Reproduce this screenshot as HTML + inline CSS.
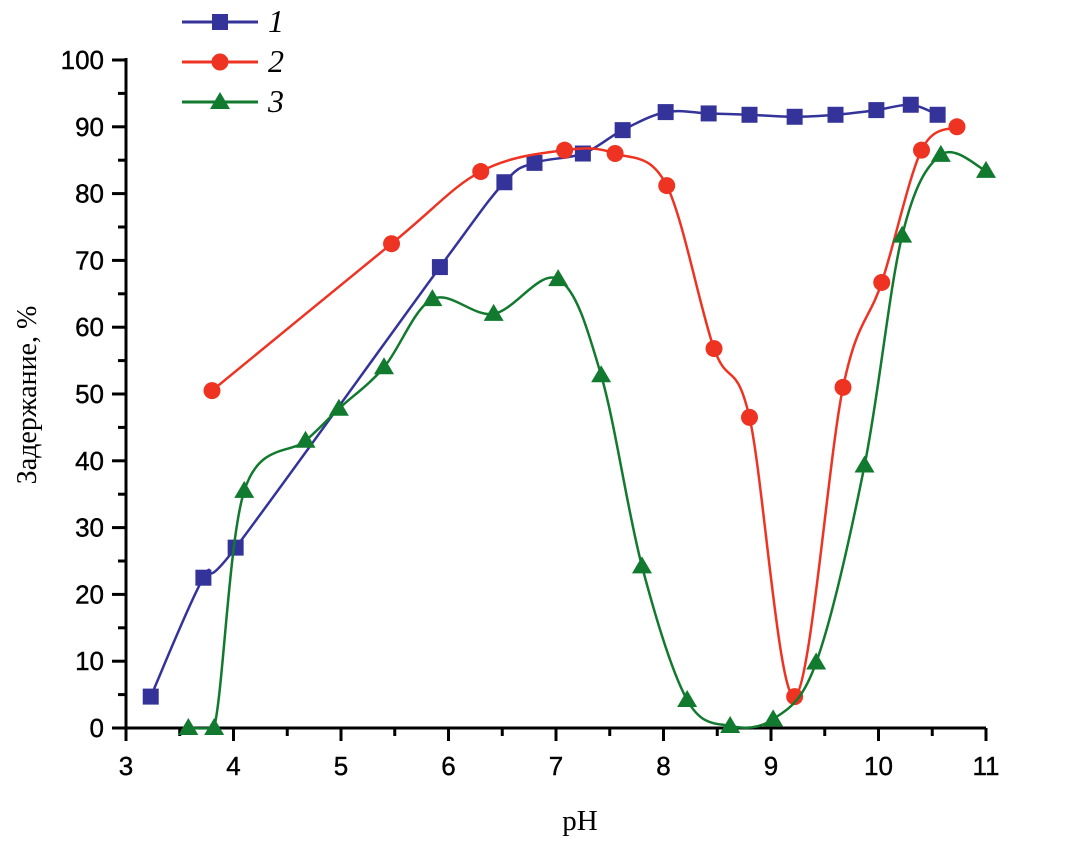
<!DOCTYPE html>
<html><head><meta charset="utf-8"><style>
body{margin:0;background:#fff}
svg text{font-family:"Liberation Sans",sans-serif}
</style></head><body>
<svg id="c" width="1091" height="852" xmlns="http://www.w3.org/2000/svg"></svg>
<script>
const xTicks=[3,4,5,6,7,8,9,10,11];
const yTicks=[0,10,20,30,40,50,60,70,80,90,100];
const s1x=[3.23,3.72,4.02,5.92,6.52,6.8,7.25,7.62,8.02,8.42,8.8,9.22,9.6,9.98,10.3,10.55];
const s1y=[4.7,22.5,27,69,81.7,84.6,86,89.5,92.2,92,91.8,91.5,91.8,92.5,93.3,91.8];
const s2x=[3.8,5.47,6.3,7.08,7.55,8.03,8.47,8.8,9.22,9.67,10.03,10.4,10.73];
const s2y=[50.5,72.5,83.3,86.5,86,81.2,56.8,46.5,4.7,51,66.7,86.5,90];
const s3x=[3.58,3.82,4.1,4.67,4.98,5.4,5.85,6.42,7.02,7.42,7.8,8.22,8.62,9.02,9.42,9.87,10.22,10.58,11.0];
const s3y=[0,0,35.5,43,47.8,54,64.2,62,67.2,52.8,24.2,4.2,0.3,1.3,9.8,39.3,73.7,85.8,83.4];
const X=v=>126+(v-3)*107.5, Y=v=>728-v*6.68;
const svg=document.getElementById('c'),NS='http://www.w3.org/2000/svg';
function mk(t,a,p){const e=document.createElementNS(NS,t);for(const k in a)e.setAttribute(k,a[k]);(p||svg).appendChild(e);return e;}
let ax=mk('line',{x1:112,y1:728,x2:986,y2:728,stroke:'#000','stroke-width':3});


let ay=mk('line',{x1:126,y1:58,x2:126,y2:728,stroke:'#000','stroke-width':3});


xTicks.forEach((v,i)=>{
  mk('line',{x1:X(v),y1:728,x2:X(v),y2:741,stroke:'#000','stroke-width':3});
  if(i<xTicks.length-1)mk('line',{x1:X(v+0.5),y1:728,x2:X(v+0.5),y2:736,stroke:'#000','stroke-width':3});
  const t=mk('text',{x:X(v),y:775,'font-size':26,'text-anchor':'middle',stroke:'#000','stroke-width':0.4});t.textContent=v;
  
  
});
yTicks.forEach((v,i)=>{
  mk('line',{x1:112,y1:Y(v),x2:126,y2:Y(v),stroke:'#000','stroke-width':3});
  if(i<yTicks.length-1)mk('line',{x1:118,y1:Y(v+5),x2:126,y2:Y(v+5),stroke:'#000','stroke-width':3});
  const t=mk('text',{x:104,y:Y(v)+9,'font-size':26,'text-anchor':'end',stroke:'#000','stroke-width':0.4});t.textContent=v;
  
  
});
let yt=mk('text',{x:0,y:0,'font-size':28,'text-anchor':'middle',transform:'translate(36,395) rotate(-90)',style:'font-family:"Liberation Serif",serif'});
yt.textContent='Задержание, %';


let xt=mk('text',{x:580,y:830,'font-size':29,'text-anchor':'middle',style:'font-family:"Liberation Serif",serif'});
xt.textContent='pH';


function spline(xs,ys){
  const p=xs.map((x,i)=>[X(x),Y(ys[i])]);let d='M'+p[0][0]+','+p[0][1];
  const cl=y=>Math.min(y,729);
  for(let i=0;i<p.length-1;i++){const p0=p[i-1]||p[i],p1=p[i],p2=p[i+1],p3=p[i+2]||p2;
    d+=' C'+(p1[0]+(p2[0]-p0[0])/6)+','+cl(p1[1]+(p2[1]-p0[1])/6)+' '+(p2[0]-(p3[0]-p1[0])/6)+','+cl(p2[1]-(p3[1]-p1[1])/6)+' '+p2[0]+','+p2[1];}
  return d;}
function marker(type,x,y,col,g){
  if(type==0)return mk('rect',{x:x-8,y:y-8,width:16,height:16,fill:col},g);
  if(type==1)return mk('circle',{cx:x,cy:y,r:8.5,fill:col},g);
  return mk('polygon',{points:`${x},${y-10} ${x-10},${y+7} ${x+10},${y+7}`,fill:col},g);}
const series=[[s1x,s1y,'#33339a'],[s2x,s2y,'#ee3322'],[s3x,s3y,'#117a2e']];
series.forEach(([xs,ys,col],k)=>{
  const g=mk('g',{});
  
  
  mk('path',{d:spline(xs,ys),fill:'none',stroke:col,'stroke-width':2.5},g);
  xs.forEach((x,i)=>{const m=marker(k,X(x),Y(ys[i]),col,g);
    
    });
  const lg=mk('g',{});
  
  
  const ly=22+k*40;
  mk('line',{x1:182,y1:ly,x2:258,y2:ly,stroke:col,'stroke-width':3},lg);
  marker(k,220,ly,col,lg);
  const t=mk('text',{x:268,y:ly+10,'font-size':32,'font-style':'italic',style:'font-family:"Liberation Serif",serif'},lg);
  t.textContent=String(k+1);
});
</script>
</body></html>
